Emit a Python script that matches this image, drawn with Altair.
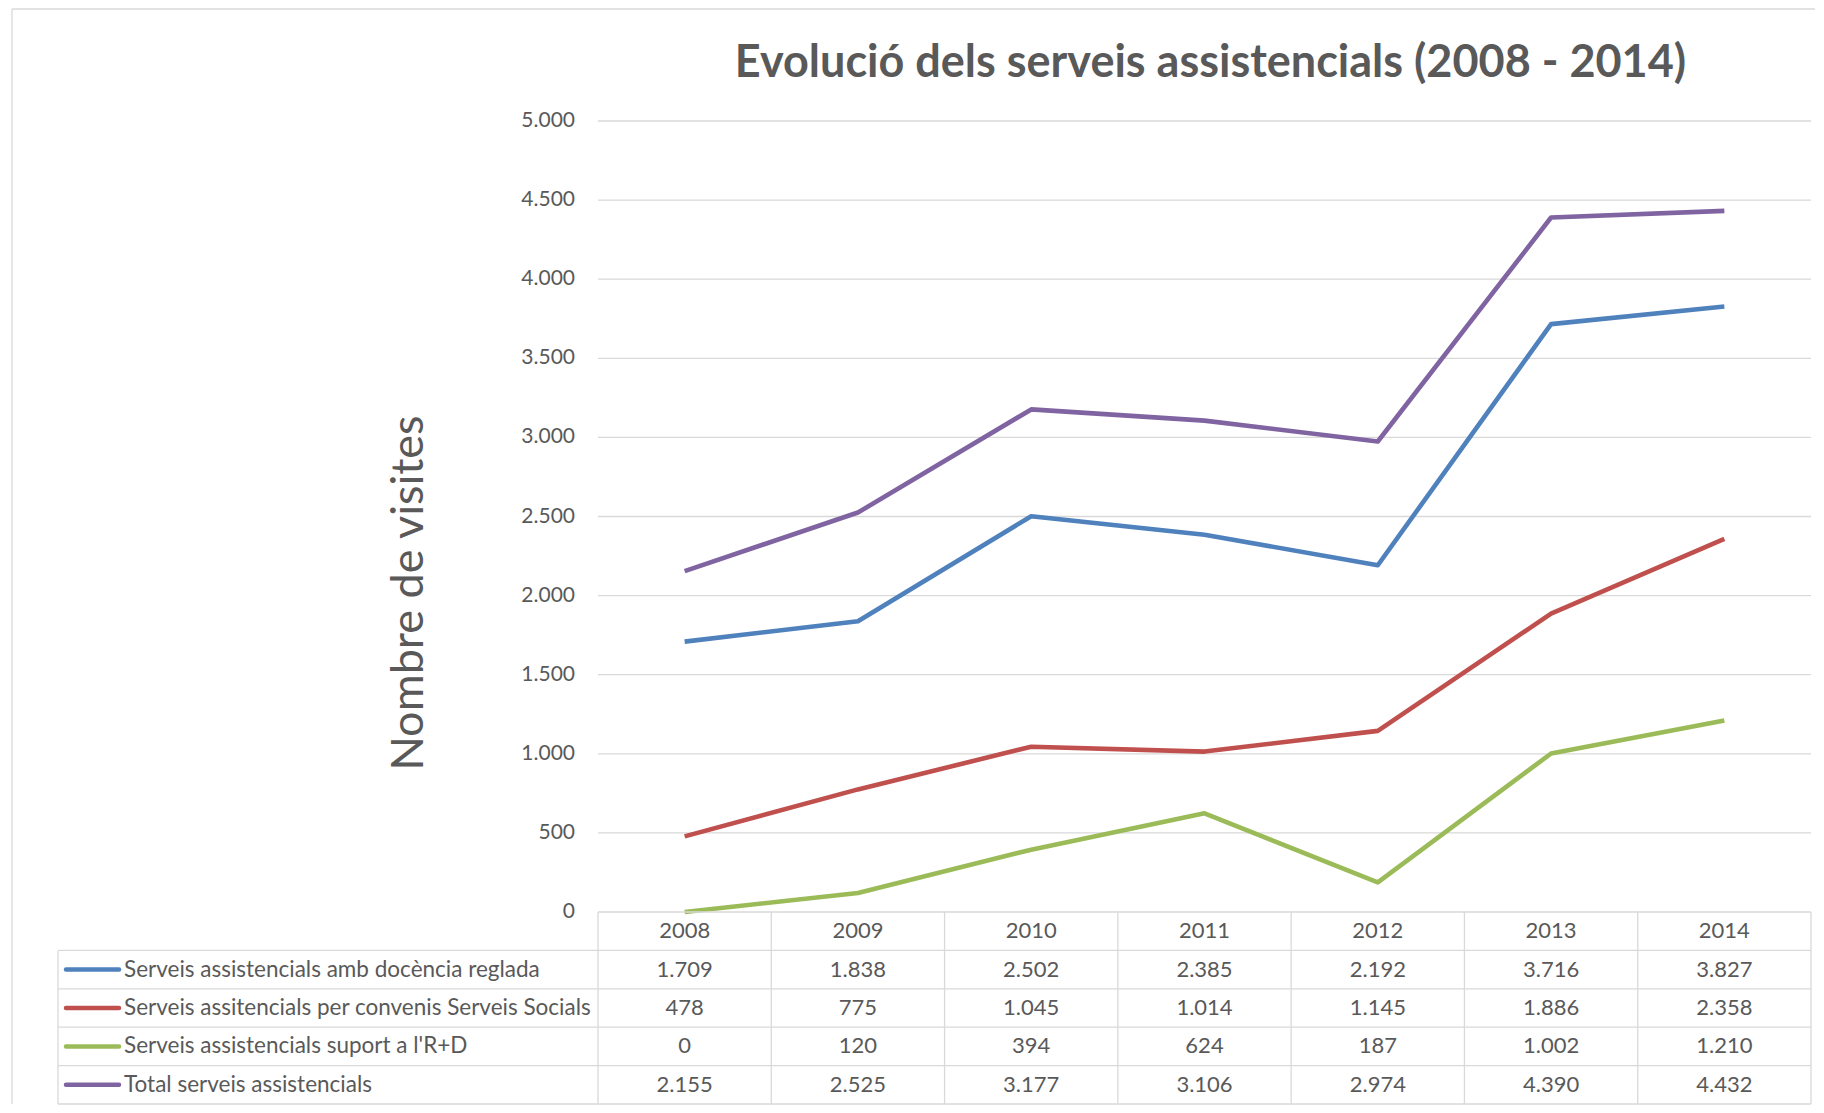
import altair as alt
import pandas as pd

# ---------------- data ----------------
years = ["2008", "2009", "2010", "2011", "2012", "2013", "2014"]
series = [
    "Serveis assistencials amb docència reglada",
    "Serveis assitencials per convenis Serveis Socials",
    "Serveis assistencials suport a l'R+D",
    "Total serveis assistencials",
]
docencia = [1709, 1838, 2502, 2385, 2192, 3716, 3827]
convenis = [478, 775, 1045, 1014, 1145, 1886, 2358]
recerca = [0, 120, 394, 624, 187, 1002, 1210]
total = [2155, 2525, 3177, 3106, 2974, 4390, 4432]
colors = ["#4f81bd", "#c0504d", "#9bbb59", "#8064a2"]
y_ticks = [0, 500, 1000, 1500, 2000, 2500, 3000, 3500, 4000, 4500, 5000]
title_text = "Evolució dels serveis assistencials (2008 - 2014)"
y_title = "Nombre de visites"

# ---------------- layout ----------------
PLOT_W = 1213          # width of the year columns
NCOL = len(years)
COL_W = PLOT_W / NCOL
LEFT_W = 540           # width of the legend column of the table
L = LEFT_W / COL_W     # same in column units
TOP_H = 791
ROW_H = 38.4
NROW = len(series) + 1
TABLE_H = ROW_H * NROW
GREY = "#595959"
LINE = "#d9d9d9"
FONT = "Lato"
FS = 22
YMAX = 5000
PX_Y = YMAX / TOP_H    # value units per pixel
# y-axis title placement (pixels relative to the value axis / plot top)
YT_DX = -189
YT_DY = 472
# outer chart-area frame (pixels relative to the table area)
FR_LEFT = -46          # left of table legend column
FR_TOP = TOP_H + 112   # above table top
FR_RIGHT = 4           # right of last column

x_scale = alt.Scale(domain=[-L, NCOL], nice=False, zero=False)
y_scale = alt.Scale(domain=[0, YMAX], nice=False, zero=True)
r_scale = alt.Scale(domain=[0, NROW], nice=False, zero=False, reverse=True)
c_scale = alt.Scale(domain=series, range=colors)

all_vals = [docencia, convenis, recerca, total]
recs = []
for si, (s, vals) in enumerate(zip(series, all_vals)):
    for i, (yr, v) in enumerate(zip(years, vals)):
        recs.append({"series": s, "year": yr, "col": i + 0.5, "value": v, "row": si + 1.5})
df = pd.DataFrame(recs)

fmt = "replace(format(datum.value, ','), ',', '.')"

# ---------------- line chart ----------------
grid_df = pd.DataFrame({"y": y_ticks[1:], "x0": 0, "x1": NCOL})
grid = alt.Chart(grid_df).mark_rule(color=LINE, strokeWidth=1.3).encode(
    x=alt.X("x0:Q", scale=x_scale, axis=None),
    x2="x1:Q",
    y=alt.Y("y:Q", scale=y_scale, axis=None),
)

tick_df = pd.DataFrame({"value": y_ticks})
tick_labels = alt.Chart(tick_df).transform_calculate(
    lab=fmt, lx=f"{-23 / COL_W}"
).mark_text(align="right", baseline="middle", font=FONT, fontSize=21, color=GREY).encode(
    x=alt.X("lx:Q", scale=x_scale, axis=None),
    y=alt.Y("value:Q", scale=y_scale, axis=None),
    text="lab:N",
)

ytitle_df = pd.DataFrame({"t": [y_title]})
ytitle = alt.Chart(ytitle_df).transform_calculate(
    tx=f"{YT_DX / COL_W}", ty=f"{YMAX - YT_DY * PX_Y}"
).mark_text(
    align="center", baseline="middle", angle=270, font=FONT, fontSize=45, color=GREY
).encode(
    x=alt.X("tx:Q", scale=x_scale, axis=None),
    y=alt.Y("ty:Q", scale=y_scale, axis=None),
    text="t:N",
)

lines = alt.Chart(df).mark_line(strokeWidth=4.6, strokeJoin="round").encode(
    x=alt.X("col:Q", scale=x_scale, axis=None),
    y=alt.Y("value:Q", scale=y_scale, axis=None),
    color=alt.Color("series:N", scale=c_scale, legend=None),
)

top = alt.layer(grid, tick_labels, ytitle, lines).properties(
    width=PLOT_W + LEFT_W,
    height=TOP_H,
    title=alt.TitleParams(
        title_text,
        font=FONT,
        fontSize=45,
        fontWeight="bold",
        color=GREY,
        anchor="middle",
        frame="group",
        dx=276,
        offset=24.5,
    ),
)

# ---------------- data table ----------------
fx0 = -L + FR_LEFT / COL_W
fx1 = NCOL + FR_RIGHT / COL_W
fy0 = -FR_TOP / ROW_H
frame_df = pd.DataFrame({
    "x0": [fx0, fx0],
    "x1": [fx1, fx0],
    "y0": [fy0, fy0],
    "y1": [fy0, NROW],
})
frame = alt.Chart(frame_df).mark_rule(color=LINE, strokeWidth=1.3).encode(
    x=alt.X("x0:Q", scale=x_scale, axis=None),
    x2="x1:Q",
    y=alt.Y("y0:Q", scale=r_scale, axis=None),
    y2="y1:Q",
)

hr_df = pd.DataFrame({
    "y": list(range(NROW + 1)),
    "x0": [0] + [-L] * NROW,
    "x1": NCOL,
})
hrules = alt.Chart(hr_df).mark_rule(color=LINE, strokeWidth=1.3).encode(
    x=alt.X("x0:Q", scale=x_scale, axis=None),
    x2="x1:Q",
    y=alt.Y("y:Q", scale=r_scale, axis=None),
)
vr_df = pd.DataFrame({
    "x": [-L] + list(range(NCOL + 1)),
    "y0": [1] + [0] * (NCOL + 1),
    "y1": NROW,
})
vrules = alt.Chart(vr_df).mark_rule(color=LINE, strokeWidth=1.3).encode(
    x=alt.X("x:Q", scale=x_scale, axis=None),
    y=alt.Y("y0:Q", scale=r_scale, axis=None),
    y2="y1:Q",
)

leg_df = pd.DataFrame({"series": series, "row": [i + 1.5 for i in range(len(series))]})
swatch = alt.Chart(leg_df).mark_rule(strokeWidth=4.5, strokeCap="round").encode(
    x=alt.X("sx0:Q", scale=x_scale, axis=None),
    x2="sx1:Q",
    y=alt.Y("row:Q", scale=r_scale, axis=None),
    color=alt.Color("series:N", scale=c_scale, legend=None),
).transform_calculate(sx0=f"{-L + 8 / COL_W}", sx1=f"{-L + 61 / COL_W}")

leg_text = alt.Chart(leg_df).mark_text(
    align="left", baseline="middle", font=FONT, fontSize=22.5, color=GREY
).encode(
    x=alt.X("lx:Q", scale=x_scale, axis=None),
    y=alt.Y("row:Q", scale=r_scale, axis=None),
    text="series:N",
).transform_calculate(lx=f"{-L + 66 / COL_W}")

yr_df = pd.DataFrame({"year": years, "col": [i + 0.5 for i in range(NCOL)], "row": 0.5})
yr_text = alt.Chart(yr_df).mark_text(
    align="center", baseline="middle", font=FONT, fontSize=FS, color=GREY
).encode(
    x=alt.X("col:Q", scale=x_scale, axis=None),
    y=alt.Y("row:Q", scale=r_scale, axis=None),
    text="year:N",
)

val_text = alt.Chart(df).transform_calculate(lab=fmt).mark_text(
    align="center", baseline="middle", font=FONT, fontSize=FS, color=GREY
).encode(
    x=alt.X("col:Q", scale=x_scale, axis=None),
    y=alt.Y("row:Q", scale=r_scale, axis=None),
    text="lab:N",
)

table = alt.layer(frame, hrules, vrules, swatch, leg_text, yr_text, val_text).properties(
    width=PLOT_W + LEFT_W,
    height=TABLE_H,
)

chart = (
    alt.vconcat(top, table, spacing=0, bounds="flush")
    .properties(padding={"left": 3, "top": 0, "right": 0, "bottom": 0})
    .configure(font=FONT, background="white")
    .configure_view(strokeWidth=0, stroke=None)
)

chart.save("out.html", embed_options={"renderer": "svg", "actions": False})
